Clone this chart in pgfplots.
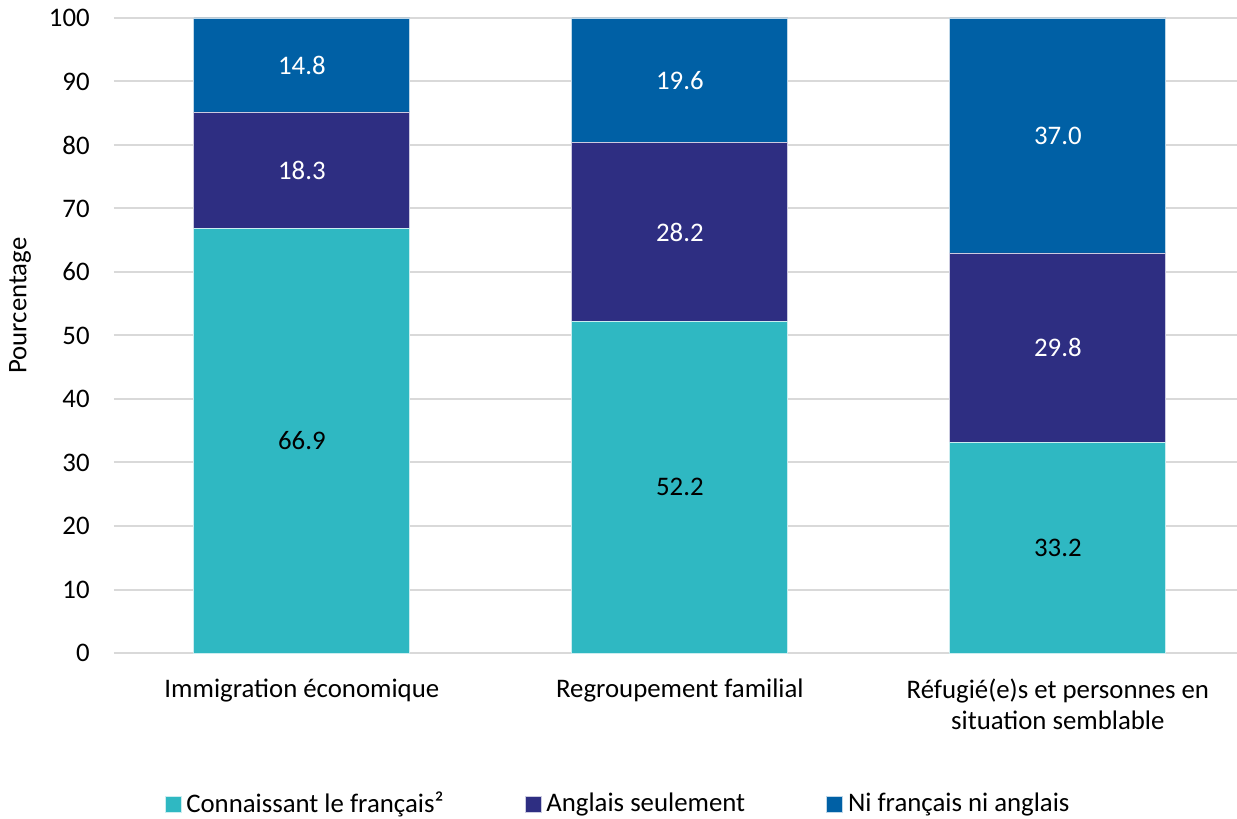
\documentclass[border=0pt]{standalone}
\usepackage{pgfplots}
\pgfplotsset{compat=1.18}
\usepackage{fontspec}
\setmainfont{Carlito}
\definecolor{cteal}{RGB}{47,184,194}
\definecolor{cnavy}{RGB}{46,46,130}
\definecolor{cblue}{RGB}{0,96,165}
\definecolor{cgrid}{RGB}{217,217,217}
\newcommand{\fs}{\fontsize{13.4pt}{15.4pt}\selectfont}
\begin{document}
\fs
\begin{tikzpicture}
\begin{axis}[
  name=ax,
  scale only axis,
  width=561.5pt, height=317.5pt,
  ybar stacked,
  bar width=108pt,
  xmin=-0.497, xmax=2.474,
  ymin=0, ymax=100,
  ytick={0,10,...,100},
  xtick={0,1,2},
  xticklabels={Immigration économique, Regroupement familial, {Réfugié(e)s et personnes en\\situation semblable}},
  xticklabel style={align=center, yshift=-8.5pt, font=\fs},
  yticklabel style={xshift=-7.5pt, font=\fs},
  /pgf/number format/assume math mode=true,
  major tick length=0pt,
  axis line style={draw=none},
  ymajorgrids,
  grid style={cgrid, line width=1pt},
  ylabel={Pourcentage},
  ylabel style={at={([xshift=-47pt]axis description cs:0,0.547)}, anchor=center, font=\fs},
  nodes near coords={\pgfmathprintnumber[fixed,fixed zerofill,precision=1]{\pgfplotspointmeta}},
  every node near coord/.append style={anchor=center, font=\fs},
  legend columns=3,
  legend style={draw=none, at={([yshift=-75.5pt]axis description cs:0.4497,0)}, anchor=center, font=\fs,
    column sep=0.5pt, /tikz/every even column/.append style={column sep=38.5pt}},
  legend image code/.code={\fill[#1] (0pt,-4pt) rectangle (8pt,4pt);},
]
\addplot+[fill=cteal, draw=white!75!cteal, line width=0.4pt, every node near coord/.append style={text=black}] coordinates {(0,66.9) (1,52.2) (2,33.2)};
\addlegendentry{Connaissant le français²}
\addplot+[fill=cnavy, draw=white!75!cnavy, line width=0.4pt, every node near coord/.append style={text=white}] coordinates {(0,18.3) (1,28.2) (2,29.8)};
\addlegendentry{Anglais seulement}
\addplot+[fill=cblue, draw=white!75!cblue, line width=0.4pt, every node near coord/.append style={text=white}] coordinates {(0,14.8) (1,19.6) (2,37.0)};
\addlegendentry{Ni français ni anglais}
\end{axis}
\pgfresetboundingbox
\path ([xshift=-57pt,yshift=-83pt]ax.south west) rectangle ([yshift=9pt]ax.north east);
\end{tikzpicture}
\end{document}
